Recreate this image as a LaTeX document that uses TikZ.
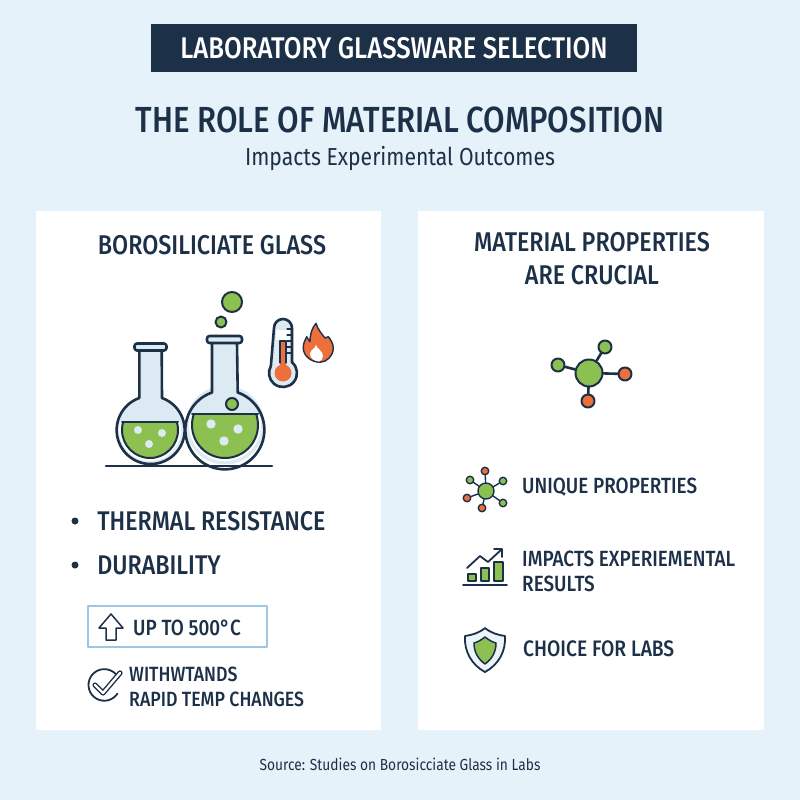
\documentclass[tikz,border=0pt]{standalone}
\usepackage{fontspec}
\setmainfont{Fira Sans}[FakeStretch=0.86,BoldFont={Fira Sans Medium},BoldFeatures={FakeStretch=0.86}]
\usetikzlibrary{positioning}
\definecolor{navy}{HTML}{1C3048}
\definecolor{leaf}{HTML}{8CC152}
\definecolor{ember}{HTML}{EC6F3C}
\definecolor{glass}{HTML}{DCEAF3}
\definecolor{pagebg}{HTML}{E6F2F9}
\definecolor{boxblue}{HTML}{9CC6E4}
\tikzset{
	card/.style={fill=white,draw=none},
	head/.style={font=\fontsize{27.1}{33}\selectfont\bfseries,text=navy,align=center,inner sep=0pt},
	item/.style={font=\fontsize{27}{32}\selectfont\bfseries,text=navy,anchor=west,inner sep=0pt},
	minor/.style={font=\fontsize{22}{25}\selectfont\bfseries,text=navy,anchor=west,align=left,inner sep=0pt},
	ln/.style={draw=navy,line width=2.6pt,line join=round,line cap=round},
	ball/.style={circle,draw=navy,line width=2pt,fill=leaf,inner sep=0pt,minimum size=#1},
	hotball/.style={ball=#1,fill=ember},
	thinball/.style={ball=#1,line width=1.4pt},
	thinhot/.style={thinball=#1,fill=ember},
	dot/.style={circle,fill=navy,inner sep=0pt,minimum size=7pt}
}
\begin{document}
\begin{tikzpicture}[x=1pt,y=-1pt,line join=round,line cap=round]
	\useasboundingbox (0,0) rectangle (800,800);
	\fill[pagebg] (0,0) rectangle (800,800);
	% header
	\fill[navy] (151,24) rectangle (637,72);
	\node[font=\fontsize{29.9}{34}\selectfont\bfseries,text=white,inner sep=0pt] (banner) at (394,48) {LABORATORY GLASSWARE SELECTION};
	\node[font=\fontsize{36.3}{40}\selectfont\bfseries,text=navy,inner sep=0pt] (title) at (400,120) {THE ROLE OF MATERIAL COMPOSITION};
	\node[font=\fontsize{24.6}{28}\selectfont,text=navy,inner sep=0pt] (subtitle) at (400,159) {Impacts Experimental Outcomes};
	% cards
	\fill[card] (36,211) rectangle (381,730);
	\fill[card] (418,211) rectangle (764,730);
	\node[head] (lefthead) at (212,245) {BOROSILICIATE GLASS};
	\node[head] (righthead) at (592,259) {MATERIAL PROPERTIES\\ARE CRUCIAL};
	% left flask
	\fill[glass] (150,430) circle (34);
	\fill[glass] (139,347) rectangle (162,400);
	\begin{scope}
		\clip (115,421.7) rectangle (185,470);
		\fill[white] (150,430) circle (31);
		\fill[leaf,draw=navy,line width=2pt] (150,430) circle (28);
	\end{scope}
	\draw[navy,line width=2pt] (122,421.7) -- (178,421.7);
	\draw[ln] (139.3,351) -- (139.3,398) arc[start angle=250.5,delta angle=-321,radius=34] -- (161.7,351);
	\draw[ln,fill=glass,rounded corners=2.5pt] (134.5,343.5) rectangle (166.5,350.5);
	\foreach \px/\py in {138/430,162/433,149/444} \fill[glass] (\px,\py) circle (4);
	% right flask
	\fill[glass] (225,425) circle (39.5);
	\fill[glass] (212,340) rectangle (237,395);
	\begin{scope}
		\clip (180,414) rectangle (270,470);
		\fill[white] (225,425) circle (36);
		\fill[leaf,draw=navy,line width=2pt] (225,425) circle (33);
	\end{scope}
	\draw[navy,line width=2pt] (192,414) -- (258,414);
	\draw[ln] (212,343) -- (212,392.5) arc[start angle=251,delta angle=-322,radius=39.5] -- (237,343);
	\draw[ln,fill=glass,rounded corners=2.5pt] (207,336) rectangle (242,343);
	\foreach \px/\py in {211/424,238/429,224/441} \fill[glass] (\px,\py) circle (4.7);
	\node[ball=12pt] (drop) at (232,404) {};
	\node[ball=11pt] (dropup) at (221,322) {};
	\node[ball=20pt] (dropout) at (232,302) {};
	\draw[ln] (106,466) -- (272,466);
	% thermometer
	\draw[ln,fill=glass] (274,328) arc[start angle=180,end angle=360,radius=9] -- (292,362.3) arc[start angle=-50,delta angle=260,radius=14] -- cycle;
	\fill[white] (276,330) rectangle (290,340);
	\fill[ember] (280,341) rectangle (286,370);
	\node[circle,fill=ember,minimum size=17pt,inner sep=0pt] (thermbulb) at (283,373) {};
	\draw[navy,line width=1.2pt] (280,363) -- (280,341) -- (286,341) -- (286,363);
	\foreach \py in {329,335,341,347,353} \draw[navy,line width=1.2pt] (287,\py) -- (292,\py);
	% flame
	\draw[navy,line width=1.4pt,fill=ember] (316,323.3) .. controls (318,330) and (322,334) .. (325,338) .. controls (326,338) and (327,337) .. (328.3,336.7) .. controls (331,340) and (333.3,344) .. (333.3,348.3) .. controls (333,356) and (327,362) .. (320,362.3) .. controls (311,362) and (303.5,356) .. (303.3,348.3) .. controls (303,344) and (305,340) .. (306.7,336.7) .. controls (307.5,338) and (308.5,340) .. (310,341.7) .. controls (310,334) and (312,328) .. (316,323.3) -- cycle;
	\fill[white] (316,345) .. controls (317,349) and (323,351) .. (323,356) .. controls (323,359) and (321,361) .. (319,361.5) .. controls (315,361) and (310,359) .. (310,354) .. controls (310,350) and (315,349) .. (316,345) -- cycle;
	% left list
	\node[dot] (dota) at (75,521) {};
	\node[dot] (dotb) at (75,565) {};
	\node[item,right=18.5pt of dota] (thermal) {THERMAL RESISTANCE};
	\node[item,right=18.5pt of dotb] (durable) {DURABILITY};
	\node[draw=boxblue,line width=1.5pt,minimum width=179pt,minimum height=41pt,inner sep=0pt,fill=white] (limit) at (177.5,626.5) {};
	\node[minor] (uplabel) at (133,628) {UP TO 500°C};
	\draw[navy,line width=1.5pt] (111,614) -- (99,628) -- (106,628) -- (106,640) -- (116,640) -- (116,628) -- (123,628) -- cycle;
	\draw[navy,line width=1.8pt] (118.5,678) arc[start angle=-26,delta angle=-300,radius=15.8];
	\draw[navy,line width=1.4pt,double=white,double distance=2.4pt] (95,685) -- (103,693) -- (120,673);
	\node[minor,font=\fontsize{20.6}{25}\selectfont\bfseries] (withstand) at (129,687) {WITHWTANDS\\RAPID TEMP CHANGES};
	% big molecule
	\node[ball=27pt] (hub) at (589,373) {};
	\node[ball=13pt] (sata) at (605,347) {};
	\node[ball=13pt] (satb) at (558,365) {};
	\node[hotball=13pt] (satc) at (625,374) {};
	\node[hotball=13pt] (satd) at (588,401) {};
	\foreach \s in {sata,satb,satc,satd} \draw[ln] (hub) -- (\s);
	% small molecule
	\node[thinball=16pt] (minihub) at (486,491) {};
	\foreach \n/\x/\y/\st in {a/485/471/thinhot,b/503/481/thinball,c/503/503/thinball,d/482/508/thinhot,e/467/498/thinhot,f/470/480/thinball}{
		\node[\st=7.5pt] (mini\n) at (\x,\y) {};
		\draw[navy,line width=1.4pt] (minihub) -- (mini\n);
	}
	\node[minor] (unique) at (522,487) {UNIQUE PROPERTIES};
	% chart
	\draw[navy,line width=1.5pt,fill=leaf] (468,574) rectangle (476,581);
	\draw[navy,line width=1.5pt,fill=leaf] (481,568) rectangle (489,581);
	\draw[navy,line width=1.5pt,fill=leaf] (494,562) rectangle (503,581);
	\draw[navy,line width=1.8pt] (463,585) -- (507,585);
	\draw[navy,line width=1.8pt] (467,568) -- (480,556) -- (488,562) -- (502,549) (494,549) -- (502,549) -- (502,557);
	\node[minor] (impacts) at (522,571.5) {IMPACTS EXPERIEMENTAL\\RESULTS};
	% shield
	\draw[navy,line width=1.8pt,fill=glass!50] (485,628) .. controls (479,633) and (472,635) .. (465,636) .. controls (464,652) and (472,665) .. (485,672) .. controls (498,665) and (506,652) .. (505,636) .. controls (498,635) and (491,633) .. (485,628) -- cycle;
	\draw[navy,line width=1.5pt,fill=leaf] (485,637) .. controls (481,640) and (478,642) .. (474,643) .. controls (474,652) and (478,659) .. (485,664) .. controls (492,659) and (496,652) .. (496,643) .. controls (492,642) and (489,640) .. (485,637) -- cycle;
	\node[minor,font=\fontsize{22.4}{25}\selectfont\bfseries] (choice) at (523,649) {CHOICE FOR LABS};
	% source
	\node[font=\fontsize{16}{18}\selectfont,text=navy,inner sep=0pt] (source) at (400,764) {Source: Studies on Borosicciate Glass in Labs};
\end{tikzpicture}
\end{document}
